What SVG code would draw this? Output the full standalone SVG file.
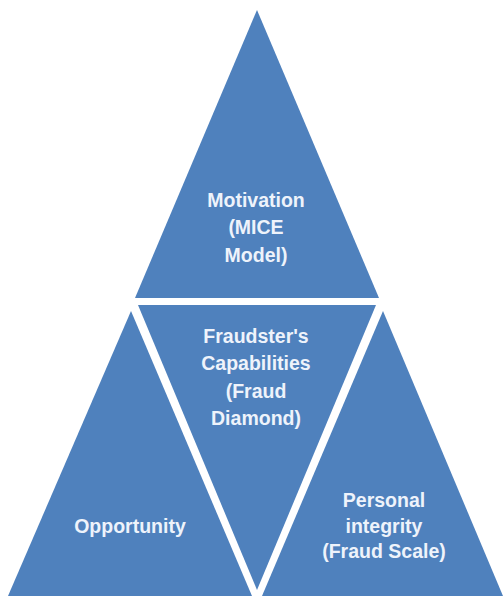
<svg xmlns="http://www.w3.org/2000/svg" width="503" height="596" viewBox="0 0 503 596">
<style>
.tri{fill:#4f81bd}
.lbl{font-family:"Liberation Sans",Arial,sans-serif;font-weight:bold;font-size:19.5px;fill:#eef3fb;text-anchor:middle}
</style>
<rect width="503" height="596" fill="#ffffff"/>
<g id="motivation">
<polygon class="tri" points="257,10 379,298 135,298"/>
<text class="lbl" x="256" y="207">Motivation</text>
<text class="lbl" x="256" y="234">(MICE</text>
<text class="lbl" x="256" y="262">Model)</text>
</g>
<g id="capabilities">
<polygon class="tri" points="138,305 376,305 257,590"/>
<text class="lbl" x="256" y="343">Fraudster's</text>
<text class="lbl" x="256" y="370">Capabilities</text>
<text class="lbl" x="256" y="398">(Fraud</text>
<text class="lbl" x="256" y="425">Diamond)</text>
</g>
<g id="opportunity">
<polygon class="tri" points="131,311 252,596 8,596"/>
<text class="lbl" x="130" y="533">Opportunity</text>
</g>
<g id="integrity">
<polygon class="tri" points="383,311 503,596 262,596"/>
<text class="lbl" x="384" y="507">Personal</text>
<text class="lbl" x="384" y="533">integrity</text>
<text class="lbl" x="384" y="558">(Fraud Scale)</text>
</g>
<g id="connectors"></g>
</svg>
